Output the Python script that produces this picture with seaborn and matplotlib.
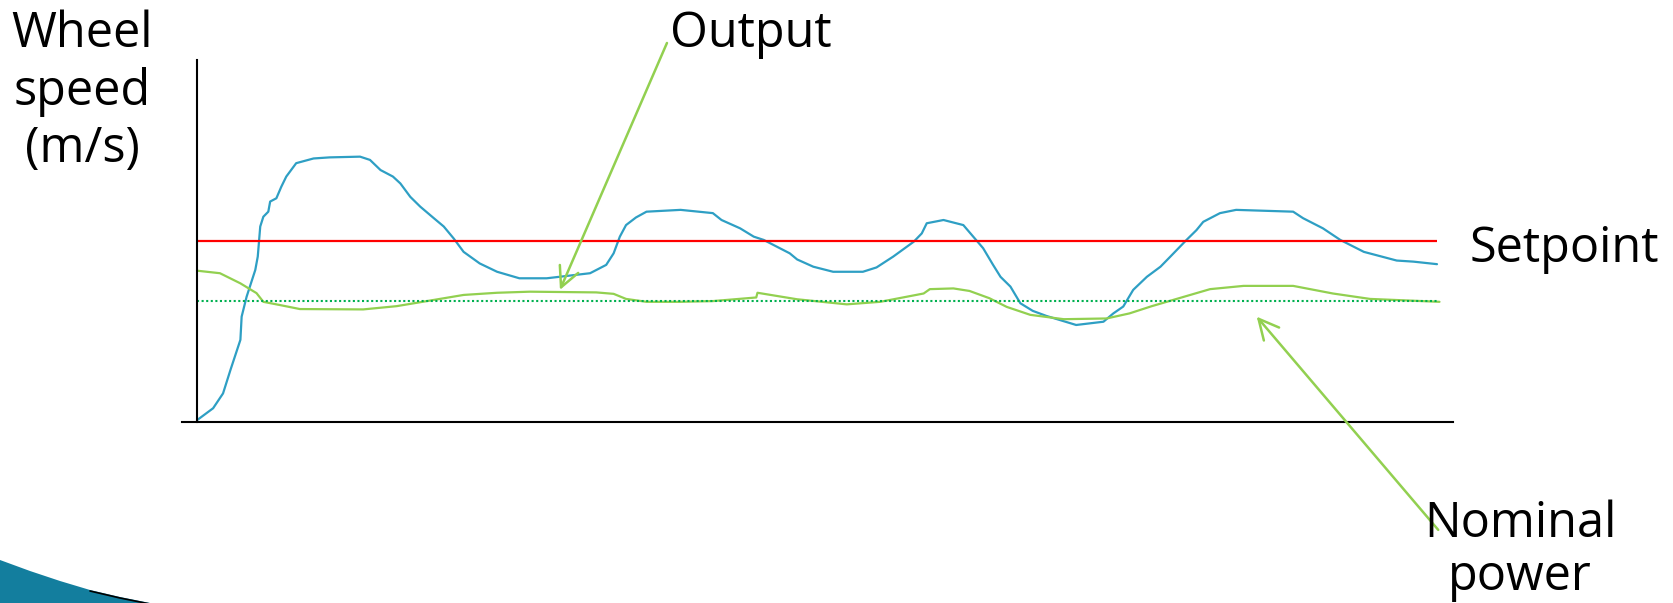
import numpy as np
import pandas as pd
import matplotlib.pyplot as plt
import seaborn as sns
from matplotlib.patches import Polygon

# Données (temps arbitraire 0-100, vitesse 0-10)
t_output = [0, 1.3, 2.1, 2.7, 3.5, 3.6, 4.0, 4.7, 4.9, 5.1, 5.35, 5.75, 5.9, 6.4, 6.8, 7.2,
            8.0, 9.4, 10.7, 13.15, 13.95, 14.8, 15.8, 16.4, 17.2, 18.0, 19.1, 19.9, 20.7,
            21.5, 22.8, 24.2, 26.0, 28.2, 31.7, 33.0, 33.6, 34.1, 34.6, 35.4, 36.25, 39.0,
            41.6, 42.3, 43.8, 44.9, 45.7, 47.8, 48.4, 49.7, 51.3, 53.7, 54.8, 56.15, 57.8,
            58.45, 58.85, 60.2, 61.8, 62.6, 63.4, 64.2, 64.8, 65.6, 66.4, 67.4, 68.5, 70.9,
            73.1, 73.9, 74.7, 75.5, 76.6, 77.7, 78.5, 79.8, 80.6, 81.15, 82.5, 83.8, 88.4,
            89.2, 90.8, 92.2, 94.1, 96.75, 98.1, 100]
v_output = [0.05, 0.38, 0.79, 1.44, 2.27, 2.91, 3.46, 4.2, 4.57, 5.4, 5.67, 5.81, 6.09, 6.18,
            6.5, 6.78, 7.15, 7.28, 7.31, 7.33, 7.24, 6.96, 6.78, 6.59, 6.22, 5.95, 5.63, 5.4,
            5.07, 4.7, 4.38, 4.15, 3.97, 3.97, 4.11, 4.34, 4.66, 5.12, 5.44, 5.65, 5.81, 5.86,
            5.77, 5.58, 5.35, 5.12, 5.03, 4.66, 4.49, 4.29, 4.15, 4.15, 4.27, 4.57, 4.98,
            5.21, 5.49, 5.58, 5.44, 5.12, 4.8, 4.34, 4.01, 3.74, 3.28, 3.07, 2.93, 2.68,
            2.77, 3.0, 3.19, 3.65, 4.01, 4.29, 4.57, 5.03, 5.3, 5.53, 5.77, 5.86, 5.81,
            5.63, 5.35, 5.03, 4.7, 4.46, 4.43, 4.36]

t_power = [0, 1.85, 3.5, 4.8, 5.35, 6.7, 8.3, 13.4, 16.1, 21.5, 24.2, 26.85, 32.2, 33.6,
           34.6, 36.25, 39.0, 41.6, 45.1, 45.2, 48.4, 52.4, 55.1, 58.6, 59.1, 61.0, 62.3,
           63.9, 65.3, 67.2, 69.9, 73.35, 75.2, 77.0, 79.6, 81.7, 84.4, 88.4, 91.6, 94.6,
           100.2]
v_power = [4.18, 4.11, 3.83, 3.56, 3.32, 3.23, 3.12, 3.11, 3.2, 3.51, 3.57, 3.6, 3.58, 3.54,
           3.4, 3.32, 3.32, 3.34, 3.44, 3.57, 3.39, 3.25, 3.32, 3.55, 3.67, 3.69, 3.62,
           3.42, 3.18, 2.96, 2.84, 2.86, 3.0, 3.2, 3.46, 3.67, 3.76, 3.76, 3.55, 3.4, 3.32]

setpoint = 5.0
nominal = 3.34

df_out = pd.DataFrame({'t': t_output, 'v': v_output})
df_pow = pd.DataFrame({'t': t_power, 'v': v_power})

sns.set_style('white')
plt.rcParams['font.family'] = ['Open Sans', 'DejaVu Sans']
plt.rcParams['text.color'] = 'black'

fig = plt.figure(figsize=(16.73, 6.03), dpi=100)
W, H = 1673, 603
ax = fig.add_axes([182 / W, 1 - 422 / H, (1453 - 182) / W, (422 - 60) / H])

sns.lineplot(data=df_out, x='t', y='v', ax=ax, color='#2E9FC4', linewidth=1.6,
             sort=False, estimator=None)
sns.lineplot(data=df_pow, x='t', y='v', ax=ax, color='#92D050', linewidth=1.6,
             sort=False, estimator=None)
ax.hlines(setpoint, 0, 100, color='#FF0000', linewidth=1.6)
ax.hlines(nominal, 0, 100.2, color='#00B050', linewidth=1.5, linestyles=(0, (1, 1.2)))

ax.set_xlim(-15 / 12.4, (1453 - 197) / 12.4)
ax.set_ylim(0, 10)
ax.set_xticks([])
ax.set_yticks([])
ax.set_xlabel('')
ax.set_ylabel('')
for s in ['top', 'right']:
    ax.spines[s].set_visible(False)
ax.spines['left'].set_position(('data', 0))
for s in ['left', 'bottom']:
    ax.spines[s].set_color('black')
    ax.spines[s].set_linewidth(1.5)

# flèches
green = '#92D050'
ap = dict(arrowstyle='->,head_length=0.9,head_width=0.45', color=green, lw=1.8,
          mutation_scale=16, shrinkA=0, shrinkB=0)
ax.annotate('', xy=(29.27, 3.65), xytext=(37.9, 10.47), arrowprops=ap,
            annotation_clip=False)
ax.annotate('', xy=(85.46, 2.91), xytext=(100.1, -2.98), arrowprops=ap,
            annotation_clip=False)

fs = 35
for txt, yb in [('Wheel', 47), ('speed', 105), ('(m/s)', 162)]:
    fig.text(82 / W, 1 - yb / H, txt, fontsize=fs, ha='center', va='baseline')
fig.text(670 / W, 1 - 47 / H, 'Output', fontsize=fs, ha='left', va='baseline')
fig.text(1470 / W, 1 - 262 / H, 'Setpoint', fontsize=fs, ha='left', va='baseline')
fig.text(1520 / W, 1 - 537 / H, 'Nominal', fontsize=fs, ha='center', va='baseline')
fig.text(1520 / W, 1 - 590 / H, 'power', fontsize=fs, ha='center', va='baseline')

# décor en bas à gauche
edge = [(0, 560), (30, 571), (60, 581), (90, 590), (120, 597), (150, 603)]
pts = edge + [(0, 603)]
fig.patches.append(Polygon([(x / W, 1 - y / H) for x, y in pts], closed=True,
                           transform=fig.transFigure, facecolor='#137E9E',
                           edgecolor='none'))
fig.lines.append(plt.Line2D([x / W for x, y in edge[3:]], [1 - (y + 1) / H for x, y in edge[3:]],
                            transform=fig.transFigure, color='black', linewidth=1.2))

fig.savefig('out.png', dpi=100)
